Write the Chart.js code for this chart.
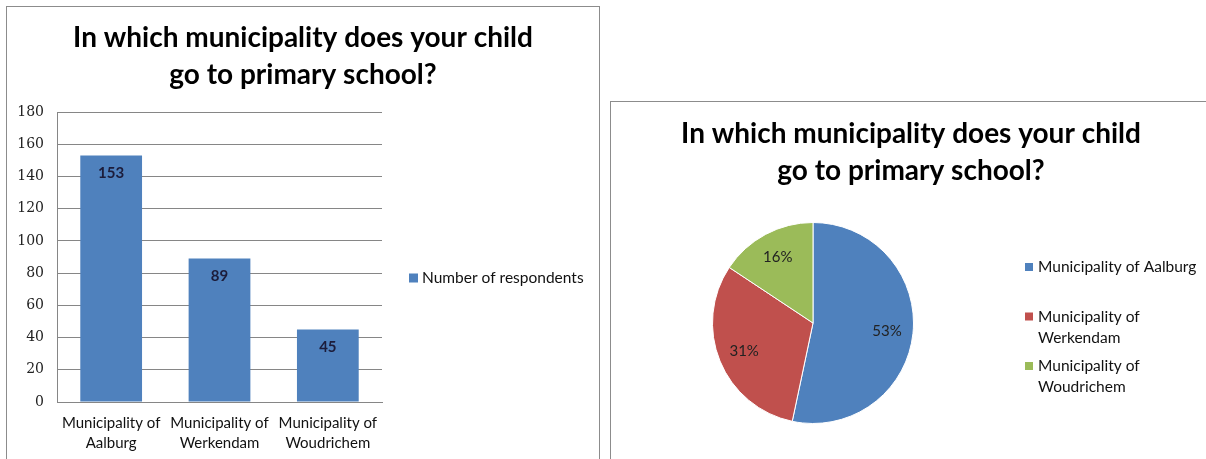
<!DOCTYPE html>
<html>
<head>
<meta charset="utf-8">
<title>Primary school municipality</title>
<script src="https://cdn.jsdelivr.net/npm/chart.js@4.4.1/dist/chart.umd.min.js"></script>
<style>
  html, body { margin: 0; padding: 0; background: #fff; overflow: hidden; width: 1206px; height: 459px; }
  .frame { position: absolute; border: 1px solid #8c8c8c; border-bottom: none; background: #fff; }
  #barFrame { left: 6px; top: 6px; width: 592px; height: 470px; }
  #pieFrame { left: 610px; top: 101px; width: 600px; height: 380px; }
  canvas { display: block; }
</style>
</head>
<body>
<div class="frame" id="barFrame"><canvas id="barChart" width="592" height="452"></canvas></div>
<div class="frame" id="pieFrame"><canvas id="pieChart" width="600" height="357"></canvas></div>
<script>
const chartTitle = ["In which municipality does your child", "go to primary school?"];
const municipalities = ["Municipality of Aalburg", "Municipality of Werkendam", "Municipality of Woudrichem"];
const respondents = [153, 89, 45];
const seriesName = "Number of respondents";
const yMin = 0, yMax = 180, yStep = 20;
const sliceColors = ["#4f81bd", "#c0504d", "#9bbb59"];

const FONT = "Lato, 'Open Sans', sans-serif";

// category labels on two lines: "Municipality of" / place name
const axisLabels = municipalities.map((m) => {
  const i = m.indexOf(" of ") + 3;
  return [m.slice(0, i), m.slice(i + 1)];
});

// heading centred over the whole frame, not just the plot area
const boxTitle = {
  id: "boxTitle",
  afterDraw(chart, args, opts) {
    const ctx = chart.ctx;
    ctx.save();
    ctx.font = opts.font;
    ctx.fillStyle = opts.color;
    ctx.textAlign = "center";
    ctx.textBaseline = "alphabetic";
    opts.lines.forEach((l, k) => ctx.fillText(l, opts.x, opts.y + k * opts.lineHeight));
    ctx.restore();
  },
};

// value text inside the bars, percentages inside the slices
const valueLabels = {
  id: "valueLabels",
  afterDatasetsDraw(chart, args, opts) {
    const ctx = chart.ctx;
    const data = chart.data.datasets[0].data;
    const total = data.reduce((a, b) => a + b, 0);
    ctx.save();
    ctx.font = opts.font;
    ctx.fillStyle = opts.color;
    ctx.textAlign = "center";
    ctx.textBaseline = "middle";
    chart.getDatasetMeta(0).data.forEach((el, i) => {
      let x, y, text;
      if (chart.config.type === "pie") {
        const mid = (el.startAngle + el.endAngle) / 2;
        const r = el.outerRadius * opts.radius;
        x = el.x + Math.cos(mid) * r;
        y = el.y + Math.sin(mid) * r;
        text = Math.round((data[i] / total) * 100) + "%";
      } else {
        x = el.x;
        y = el.y + opts.offset;
        text = String(data[i]);
      }
      ctx.fillText(text, x, y);
    });
    ctx.restore();
  },
};

// legend drawn beside the plot, long entries wrap onto a second line
const sideLegend = {
  id: "sideLegend",
  afterDraw(chart, args, opts) {
    const ctx = chart.ctx;
    const items = chart.options.plugins.legend.labels.generateLabels(chart);
    ctx.save();
    ctx.font = opts.font;
    ctx.textBaseline = "middle";
    ctx.textAlign = "left";
    items.forEach((item, i) => {
      const y0 = opts.y + i * opts.itemSpacing;
      ctx.fillStyle = item.fillStyle;
      ctx.fillRect(opts.x, y0 - opts.box / 2, opts.box, opts.box);
      ctx.fillStyle = opts.color;
      const words = item.text.split(" ");
      const lines = [];
      let line = "";
      words.forEach((w) => {
        const t = line ? line + " " + w : w;
        if (line && ctx.measureText(t).width > opts.maxWidth) {
          lines.push(line);
          line = w;
        } else {
          line = t;
        }
      });
      lines.push(line);
      lines.forEach((l, k) => ctx.fillText(l, opts.x + opts.box + opts.gap, y0 + k * opts.lineHeight));
    });
    ctx.restore();
  },
};

const titleFont = "bold 28px " + FONT;

new Chart(document.getElementById("barChart"), {
  type: "bar",
  data: {
    labels: axisLabels,
    datasets: [
      {
        label: seriesName,
        data: respondents,
        backgroundColor: sliceColors[0],
        borderWidth: 0,
        categoryPercentage: 1,
        barPercentage: 0.57,
      },
    ],
  },
  options: {
    responsive: false,
    animation: false,
    layout: { padding: { left: 0, right: 217, top: 105, bottom: 0 } },
    plugins: {
      title: { display: false },
      legend: { display: false },
      tooltip: { enabled: false },
      boxTitle: { lines: chartTitle, x: 296, y: 40, lineHeight: 37, font: titleFont, color: "#000" },
      valueLabels: { font: "bold 15px " + FONT, color: "#1c1c3a", offset: 18 },
      sideLegend: {
        x: 402, y: 271, box: 9, gap: 4, itemSpacing: 50, lineHeight: 21,
        maxWidth: 200, font: "15.5px " + FONT, color: "#111",
      },
    },
    scales: {
      x: {
        grid: { display: false, drawTicks: false },
        border: { display: true, color: "#868686" },
        ticks: {
          color: "#111",
          font: { family: FONT, size: 15, lineHeight: 20 / 15 },
          padding: 11,
          maxRotation: 0,
          autoSkip: false,
        },
        afterFit: (scale) => { scale.height = 57; },
      },
      y: {
        min: yMin,
        max: yMax,
        grid: { color: "#868686", drawTicks: false },
        border: { display: true, color: "#868686" },
        ticks: {
          stepSize: yStep,
          color: "#222",
          font: { family: "'DejaVu Serif', serif", size: 14 },
          padding: 13,
        },
        afterFit: (scale) => { scale.width = 50; },
      },
    },
  },
  plugins: [boxTitle, valueLabels, sideLegend],
});

new Chart(document.getElementById("pieChart"), {
  type: "pie",
  data: {
    labels: municipalities,
    datasets: [
      {
        data: respondents,
        backgroundColor: sliceColors,
        borderColor: "#fff",
        borderWidth: 1,
      },
    ],
  },
  options: {
    responsive: false,
    animation: false,
    layout: { padding: { left: 101, right: 297, top: 120, bottom: 35 } },
    plugins: {
      title: { display: false },
      legend: { display: false },
      tooltip: { enabled: false },
      boxTitle: { lines: chartTitle, x: 300, y: 41, lineHeight: 37, font: titleFont, color: "#000" },
      valueLabels: { font: "15px " + FONT, color: "#222", radius: 0.74 },
      sideLegend: {
        x: 414, y: 165, box: 8, gap: 5, itemSpacing: 49.5, lineHeight: 21,
        maxWidth: 168, font: "15.5px " + FONT, color: "#111",
      },
    },
  },
  plugins: [boxTitle, valueLabels, sideLegend],
});
</script>
</body>
</html>
